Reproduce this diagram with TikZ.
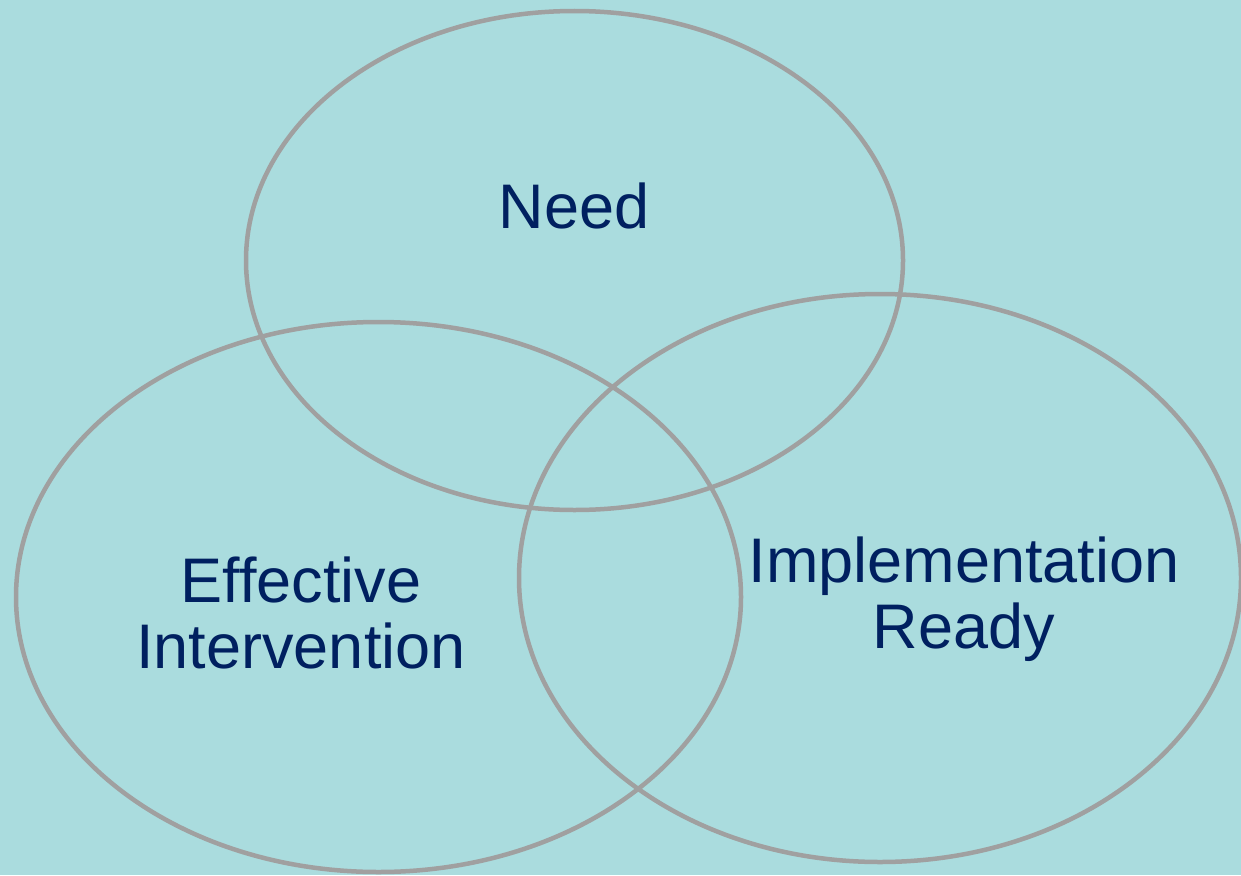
\documentclass[tikz,border=0pt]{standalone}
\usepackage{fontspec}
\setmainfont{Liberation Sans}
\usetikzlibrary{shapes.geometric}
\definecolor{bgteal}{HTML}{AADCDE}
\definecolor{ringgray}{HTML}{A0A0A0}
\definecolor{navy}{HTML}{002060}
\begin{document}
\begin{tikzpicture}[x=1pt,y=-1pt,
  ring/.style={ellipse,draw=ringgray,line width=4.5pt,inner sep=0pt,outer sep=0pt},
  lbl/.style={text=navy,font=\fontsize{63}{66}\selectfont,align=center,inner sep=0pt}]
\fill[bgteal] (0,0) rectangle (1241,875);
\useasboundingbox (0,0) rectangle (1241,875);
\node[ring,minimum width=657pt,minimum height=499pt] (need) at (574.5,260.5) {};
\node[ring,minimum width=725pt,minimum height=550pt] (eff) at (378.5,597) {};
\node[ring,minimum width=722pt,minimum height=568pt] (imp) at (880,578) {};
\node[lbl,anchor=base] (tneed) at (574,228) {Need};
\node[lbl] (teff) at (301,613) {Effective\\Intervention};
\node[lbl] (timp) at (964,599) {Implementation\\Ready};
\end{tikzpicture}
\end{document}
